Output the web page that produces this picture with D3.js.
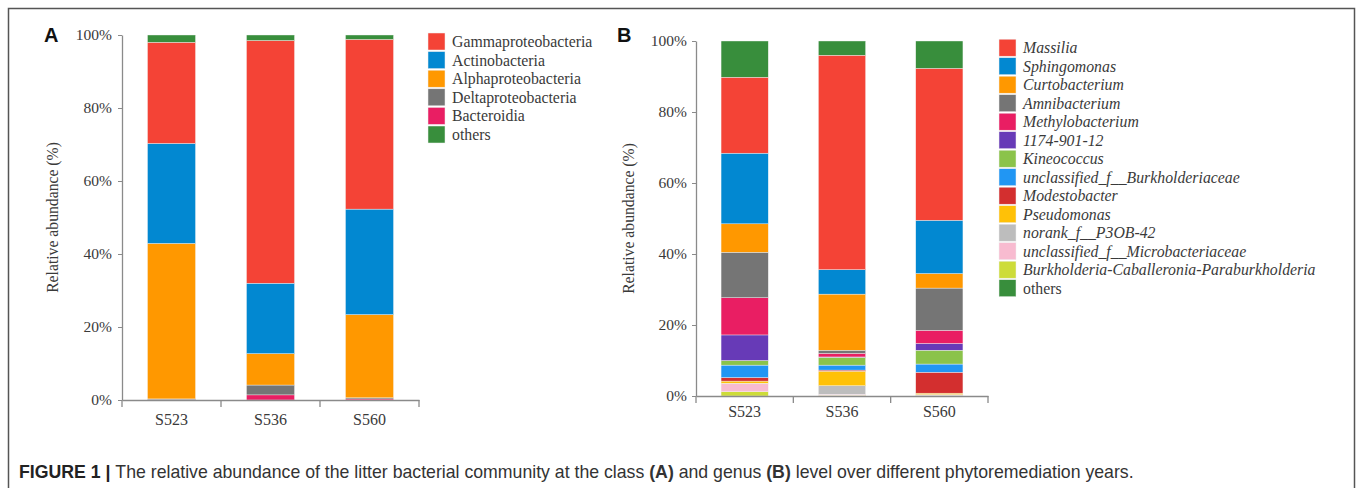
<!DOCTYPE html>
<html>
<head>
<meta charset="utf-8">
<script src="https://cdn.jsdelivr.net/npm/d3@7"></script>
<style>
  html, body { margin: 0; padding: 0; background: #fff; }
  svg { display: block; }
</style>
</head>
<body>
<svg id="fig" width="1358" height="488"></svg>
<script>
// Samples (x categories)
const samples = ["S523", "S536", "S560"];
const yTicks = [0, 20, 40, 60, 80, 100];

// Panel A: class level, stacked from bottom to top
const classKeys = ["Bacteroidia", "Deltaproteobacteria", "Alphaproteobacteria", "Actinobacteria", "Gammaproteobacteria", "others"];
const classLegend = ["Gammaproteobacteria", "Actinobacteria", "Alphaproteobacteria", "Deltaproteobacteria", "Bacteroidia", "others"];
const bacteroidia = [0.1, 1.4, 0.3];
const deltaproteobacteria = [0.2, 2.7, 0.3];
const alphaproteobacteria = [42.6, 8.6, 22.8];
const actinobacteria = [27.4, 19.3, 28.9];
const gammaproteobacteria = [27.7, 66.5, 46.5];
const classOthers = [2.0, 1.5, 1.2];

// Panel B: genus level, stacked from bottom to top
const genusKeys = ["Burkholderia-Caballeronia-Paraburkholderia", "unclassified_f__Microbacteriaceae", "norank_f__P3OB-42",
  "Pseudomonas", "Modestobacter", "unclassified_f__Burkholderiaceae", "Kineococcus", "1174-901-12",
  "Methylobacterium", "Amnibacterium", "Curtobacterium", "Sphingomonas", "Massilia", "others"];
const genusLegend = ["Massilia", "Sphingomonas", "Curtobacterium", "Amnibacterium", "Methylobacterium", "1174-901-12",
  "Kineococcus", "unclassified_f__Burkholderiaceae", "Modestobacter", "Pseudomonas", "norank_f__P3OB-42",
  "unclassified_f__Microbacteriaceae", "Burkholderia-Caballeronia-Paraburkholderia", "others"];
const burkCabPara = [1.2, 0.2, 0.1];
const microbacteriaceae = [2.3, 0.3, 0.1];
const noranP3OB42 = [0.1, 2.4, 0.2];
const pseudomonas = [0.6, 4.1, 0.4];
const modestobacter = [1.0, 0.3, 5.9];
const burkholderiaceae = [3.5, 1.4, 2.3];
const kineococcus = [1.3, 2.2, 3.9];
const g1174 = [7.2, 0.1, 1.9];
const methylobacterium = [10.5, 1.0, 3.7];
const amnibacterium = [12.8, 0.9, 11.9];
const curtobacterium = [8.0, 15.8, 4.1];
const sphingomonas = [19.9, 6.9, 15.0];
const massilia = [21.4, 60.4, 42.8];
const genusOthers = [10.2, 4.0, 7.7];

const classSeries = {
  "Bacteroidia": bacteroidia, "Deltaproteobacteria": deltaproteobacteria, "Alphaproteobacteria": alphaproteobacteria,
  "Actinobacteria": actinobacteria, "Gammaproteobacteria": gammaproteobacteria, "others": classOthers
};
const genusSeries = {
  "Burkholderia-Caballeronia-Paraburkholderia": burkCabPara, "unclassified_f__Microbacteriaceae": microbacteriaceae,
  "norank_f__P3OB-42": noranP3OB42, "Pseudomonas": pseudomonas, "Modestobacter": modestobacter,
  "unclassified_f__Burkholderiaceae": burkholderiaceae, "Kineococcus": kineococcus, "1174-901-12": g1174,
  "Methylobacterium": methylobacterium, "Amnibacterium": amnibacterium, "Curtobacterium": curtobacterium,
  "Sphingomonas": sphingomonas, "Massilia": massilia, "others": genusOthers
};

const classColors = {
  "Gammaproteobacteria": "#F44336", "Actinobacteria": "#0288D1", "Alphaproteobacteria": "#FF9800",
  "Deltaproteobacteria": "#757575", "Bacteroidia": "#E91E63", "others": "#388E3C"
};
const genusColors = {
  "Massilia": "#F44336", "Sphingomonas": "#0288D1", "Curtobacterium": "#FF9800", "Amnibacterium": "#757575",
  "Methylobacterium": "#E91E63", "1174-901-12": "#673AB7", "Kineococcus": "#8BC34A",
  "unclassified_f__Burkholderiaceae": "#2196F3", "Modestobacter": "#D32F2F", "Pseudomonas": "#FFC107",
  "norank_f__P3OB-42": "#BDBDBD", "unclassified_f__Microbacteriaceae": "#F8BBD0",
  "Burkholderia-Caballeronia-Paraburkholderia": "#CDDC39", "others": "#388E3C"
};

const svg = d3.select("#fig");
const serif = "'Liberation Serif', 'Times New Roman', serif";
const sans = "'Liberation Sans', Arial, Helvetica, sans-serif";
const axisColor = "#8a8a8a";
const textColor = "#3a3a3a";

// Figure frame
svg.append("rect").attr("x", 8.5).attr("y", 8.5).attr("width", 1346).attr("height", 500)
  .attr("fill", "none").attr("stroke", "#555").attr("stroke-width", 1.5);

function drawPanel(opt) {
  const g = svg.append("g");
  const x = d3.scaleBand().domain(samples).range(opt.xRange).padding(0);
  const y = d3.scaleLinear().domain([0, 100]).range(opt.yRange);
  const barW = x.bandwidth() * 0.485;

  const rows = samples.map((s, i) => {
    const r = { sample: s };
    opt.keys.forEach(k => { r[k] = opt.series[k][i]; });
    return r;
  });
  const stacked = d3.stack().keys(opt.keys)(rows);

  g.selectAll("g.layer").data(stacked).join("g")
    .attr("class", "layer")
    .attr("fill", d => opt.colors[d.key])
    .selectAll("rect").data(d => d).join("rect")
    .attr("x", d => x(d.data.sample) + (x.bandwidth() - barW) / 2)
    .attr("width", barW)
    .attr("y", d => y(d[1]))
    .attr("height", d => y(d[0]) - y(d[1]))
    .attr("stroke", "#f4f4f4").attr("stroke-width", 0.4);

  // y axis
  const yAxis = g.append("g").attr("transform", `translate(${opt.xRange[0]},0)`)
    .call(d3.axisLeft(y).tickValues(yTicks).tickFormat(d => d + "%").tickSize(4).tickSizeOuter(0).tickPadding(opt.tickPad));
  yAxis.attr("font-family", serif);
  yAxis.select(".domain").attr("stroke", axisColor).attr("stroke-width", 1.3);
  yAxis.selectAll(".tick line").attr("stroke", axisColor);
  yAxis.selectAll("text").attr("font-family", serif).attr("font-size", 15.5).attr("fill", textColor);

  // x axis: labels at band centres, ticks at band boundaries
  const xAxis = g.append("g").attr("transform", `translate(0,${opt.yRange[0]})`)
    .call(d3.axisBottom(x).tickSize(0).tickSizeOuter(0).tickPadding(opt.xPad));
  xAxis.attr("font-family", serif);
  xAxis.select(".domain").attr("stroke", axisColor).attr("stroke-width", 1.3);
  xAxis.selectAll("text").attr("font-family", serif).attr("font-size", 16).attr("fill", textColor);
  const bounds = samples.map(s => x(s)).concat([x.range()[1]]);
  xAxis.selectAll("line.bound").data(bounds).join("line")
    .attr("class", "bound")
    .attr("x1", d => d).attr("x2", d => d).attr("y1", 0).attr("y2", 7)
    .attr("stroke", axisColor).attr("stroke-width", 1.3);

  // y axis title
  g.append("text")
    .attr("transform", `translate(${opt.yTitleX},${(opt.yRange[0] + opt.yRange[1]) / 2}) rotate(-90)`)
    .attr("text-anchor", "middle").attr("dominant-baseline", "central")
    .attr("font-family", serif).attr("font-size", 15.7).attr("fill", textColor)
    .text("Relative abundance (%)");

  // panel letter
  g.append("text").attr("x", opt.letterX).attr("y", 42)
    .attr("font-family", sans).attr("font-weight", "bold").attr("font-size", 20).attr("fill", "#111")
    .text(opt.letter);

  // legend
  const lg = g.append("g").attr("transform", `translate(${opt.legendX},${opt.legendY})`);
  const item = lg.selectAll("g").data(opt.legend).join("g")
    .attr("transform", (d, i) => `translate(0,${i * opt.legendStep})`);
  item.append("rect").attr("x", 0).attr("y", -8.5).attr("width", 17).attr("height", 17)
    .attr("fill", d => opt.colors[d]).attr("stroke", "#eee").attr("stroke-width", 0.5);
  item.append("text").attr("x", 24).attr("y", 0).attr("dominant-baseline", "central")
    .attr("font-family", serif).attr("font-size", 15.8).attr("fill", textColor)
    .attr("font-style", d => (opt.italic && d !== "others") ? "italic" : "normal")
    .text(d => d);
}

drawPanel({
  keys: classKeys, series: classSeries, colors: classColors, legend: classLegend,
  xRange: [122, 419], yRange: [400, 35], tickPad: 6, xPad: 14, yTitleX: 52,
  letter: "A", letterX: 44, legendX: 428, legendY: 41.5, legendStep: 18.6, italic: false
});

drawPanel({
  keys: genusKeys, series: genusSeries, colors: genusColors, legend: genusLegend,
  xRange: [696, 988], yRange: [396, 41], tickPad: 5, xPad: 10, yTitleX: 628,
  letter: "B", letterX: 617, legendX: 999, legendY: 47.7, legendStep: 18.5, italic: true
});

// caption
const cap = svg.append("text").attr("x", 19).attr("y", 478)
  .attr("font-family", sans).attr("font-size", 17.7).attr("fill", "#333");
cap.append("tspan").attr("font-weight", "bold").attr("fill", "#222").text("FIGURE 1 | ");
cap.append("tspan").text("The relative abundance of the litter bacterial community at the class ");
cap.append("tspan").attr("font-weight", "bold").text("(A)");
cap.append("tspan").text(" and genus ");
cap.append("tspan").attr("font-weight", "bold").text("(B)");
cap.append("tspan").text(" level over different phytoremediation years.");
</script>
</body>
</html>
